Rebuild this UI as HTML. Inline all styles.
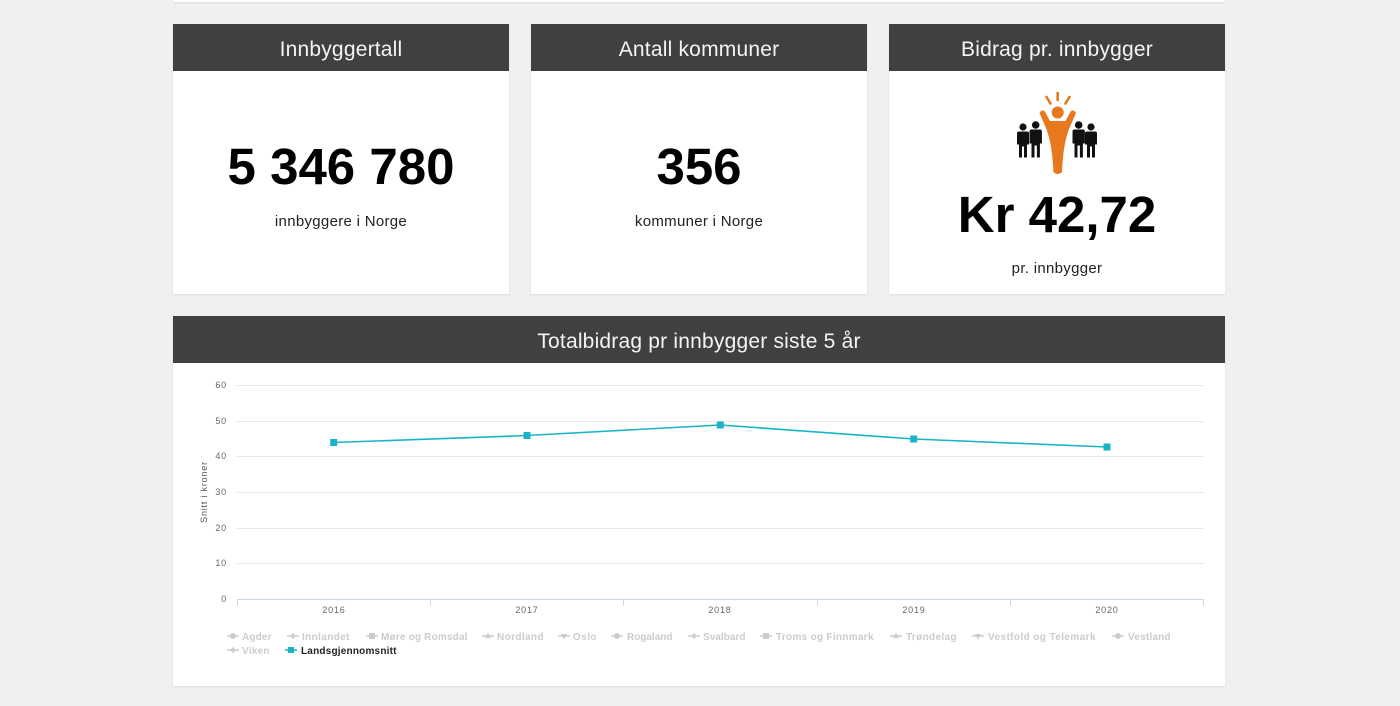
<!DOCTYPE html>
<html><head><meta charset="utf-8">
<style>
html,body{margin:0;padding:0;}
body{width:1400px;height:706px;background:#f0f0f0;position:relative;overflow:hidden;font-family:"Liberation Sans",sans-serif;}
.card{position:absolute;background:#fff;box-shadow:0 1px 2px rgba(0,0,0,0.08);}
.hdr{position:absolute;left:0;top:0;right:0;height:45px;padding-top:2px;background:#404040;color:#f4f4f4;font-size:21px;text-align:center;line-height:47px;letter-spacing:0.2px;}
.big{position:absolute;left:0;right:0;text-align:center;font-weight:bold;font-size:51px;color:#000;line-height:1;}
.sub{position:absolute;left:0;right:0;text-align:center;font-size:15px;color:#222;letter-spacing:0.3px;line-height:1;}
</style></head><body>
<div class="card" style="left:173px;top:-10px;width:1052px;height:12px;"></div>

<div class="card" style="left:173px;top:24px;width:336px;height:270px;">
  <div class="hdr">Innbyggertall</div>
  <div class="big" style="top:117px;">5 346 780</div>
  <div class="sub" style="top:190px;">innbyggere i Norge</div>
</div>

<div class="card" style="left:531px;top:24px;width:336px;height:270px;">
  <div class="hdr">Antall kommuner</div>
  <div class="big" style="top:117px;">356</div>
  <div class="sub" style="top:190px;">kommuner i Norge</div>
</div>

<div class="card" style="left:889px;top:24px;width:336px;height:270px;">
  <div class="hdr">Bidrag pr. innbygger</div>
  <svg style="position:absolute;left:0;top:0" width="336" height="160" viewBox="889 24 336 160">
    <g stroke="#e8781e" stroke-width="2.6" stroke-linecap="round">
      <line x1="1057.7" y1="93" x2="1057.7" y2="100"/>
      <line x1="1046.5" y1="97" x2="1050.5" y2="103.5"/>
      <line x1="1069.5" y1="97" x2="1065.5" y2="103.5"/>
    </g>
    <circle cx="1057.7" cy="112.5" r="6" fill="#e8781e"/>
    <path d="M1039.5,113 Q1041.5,109.5 1044.5,111 L1050,121 L1065.5,121 L1071,111 Q1074,109.5 1076,113 L1069,129 Q1063,145 1062,172 Q1057.7,176 1053.4,172 Q1052.4,145 1046.4,129 Z" fill="#e8781e"/>
    <g fill="#111">
      <circle cx="1023" cy="127" r="3.6"/>
      <path d="M1019,131.5 h8 q2,0 2,2 v11 h-2 v13 h-3 v-11 h-2 v11 h-3 v-13 h-2 v-11 q0,-2 2,-2z"/>
      <circle cx="1035.7" cy="125" r="3.8"/>
      <path d="M1031.5,129.5 h8.4 q2,0 2,2 v12 h-2 v14 h-3 v-12 h-2.4 v12 h-3 v-14 h-2 v-12 q0,-2 2,-2z"/>
      <circle cx="1078.7" cy="125" r="3.8"/>
      <path d="M1074.5,129.5 h8.4 q2,0 2,2 v12 h-2 v14 h-3 v-12 h-2.4 v12 h-3 v-14 h-2 v-12 q0,-2 2,-2z"/>
      <circle cx="1091" cy="127" r="3.6"/>
      <path d="M1087,131.5 h8 q2,0 2,2 v11 h-2 v13 h-3 v-11 h-2 v11 h-3 v-13 h-2 v-11 q0,-2 2,-2z"/>
    </g>
  </svg>
  <div class="big" style="top:165px;">Kr 42,72</div>
  <div class="sub" style="top:237px;">pr. innbygger</div>
</div>

<div class="card" style="left:173px;top:316px;width:1052px;height:370px;">
  <div class="hdr">Totalbidrag pr innbygger siste 5 år</div>
</div>

<svg style="position:absolute;left:0;top:0" width="1400" height="706">
  <g stroke="#e6e6e6" stroke-width="1">
    <line x1="237" y1="385.5" x2="1204" y2="385.5"/>
    <line x1="237" y1="421.5" x2="1204" y2="421.5"/>
    <line x1="237" y1="456.5" x2="1204" y2="456.5"/>
    <line x1="237" y1="492.5" x2="1204" y2="492.5"/>
    <line x1="237" y1="528.5" x2="1204" y2="528.5"/>
    <line x1="237" y1="563.5" x2="1204" y2="563.5"/>
  </g>
  <g stroke="#ccd6eb" stroke-width="1">
    <line x1="237" y1="599.5" x2="1204" y2="599.5"/>
    <line x1="237.5" y1="599" x2="237.5" y2="606"/>
    <line x1="430.5" y1="599" x2="430.5" y2="606"/>
    <line x1="623.5" y1="599" x2="623.5" y2="606"/>
    <line x1="817.5" y1="599" x2="817.5" y2="606"/>
    <line x1="1010.5" y1="599" x2="1010.5" y2="606"/>
    <line x1="1203.5" y1="599" x2="1203.5" y2="606"/>
  </g>
  <g font-family="Liberation Sans, sans-serif" font-size="9" fill="#666" text-anchor="end" letter-spacing="0.8">
    <text x="227" y="388">60</text>
    <text x="227" y="424">50</text>
    <text x="227" y="459">40</text>
    <text x="227" y="495">30</text>
    <text x="227" y="531">20</text>
    <text x="227" y="566">10</text>
    <text x="227" y="602">0</text>
  </g>
  <text transform="translate(207,492) rotate(-90)" font-family="Liberation Sans, sans-serif" font-size="9" fill="#555" text-anchor="middle" letter-spacing="0.8">Snitt i kroner</text>
  <g font-family="Liberation Sans, sans-serif" font-size="9" fill="#666" text-anchor="middle" letter-spacing="0.8">
    <text x="334" y="613">2016</text>
    <text x="527" y="613">2017</text>
    <text x="720" y="613">2018</text>
    <text x="914" y="613">2019</text>
    <text x="1107" y="613">2020</text>
  </g>
  <polyline points="333.7,442.5 527,435.5 720.3,425 913.7,439 1107,447" fill="none" stroke="#19b5c6" stroke-width="1.6"/>
  <g fill="#19b5c6">
    <rect x="330.2" y="439" width="7" height="7"/>
    <rect x="523.5" y="432" width="7" height="7"/>
    <rect x="716.8" y="421.5" width="7" height="7"/>
    <rect x="910.2" y="435.5" width="7" height="7"/>
    <rect x="1103.5" y="443.5" width="7" height="7"/>
  </g>
  <!-- legend -->
  <g font-family="Liberation Sans, sans-serif" font-size="10" font-weight="bold" fill="#cccccc" letter-spacing="0.5">
    <g stroke="#cccccc" stroke-width="1.5">
      <line x1="227" y1="636" x2="239" y2="636"/>
      <line x1="287" y1="636" x2="299" y2="636"/>
      <line x1="366" y1="636" x2="378" y2="636"/>
      <line x1="482" y1="636" x2="494" y2="636"/>
      <line x1="558" y1="636" x2="570" y2="636"/>
      <line x1="611" y1="636" x2="623" y2="636"/>
      <line x1="688" y1="636" x2="700" y2="636"/>
      <line x1="760" y1="636" x2="772" y2="636"/>
      <line x1="890" y1="636" x2="902" y2="636"/>
      <line x1="972" y1="636" x2="984" y2="636"/>
      <line x1="1112" y1="636" x2="1124" y2="636"/>
      <line x1="227" y1="650" x2="239" y2="650"/>
    </g>
    <circle cx="233" cy="636" r="3"/>
    <path d="M293,633 l3,3 l-3,3 l-3,-3z"/>
    <rect x="369" y="633" width="6" height="6"/>
    <path d="M488,632.5 l3.2,5.5 h-6.4z"/>
    <path d="M564,639.5 l3.2,-5.5 h-6.4z"/>
    <circle cx="617" cy="636" r="3"/>
    <path d="M694,633 l3,3 l-3,3 l-3,-3z"/>
    <rect x="763" y="633" width="6" height="6"/>
    <path d="M896,632.5 l3.2,5.5 h-6.4z"/>
    <path d="M978,639.5 l3.2,-5.5 h-6.4z"/>
    <circle cx="1118" cy="636" r="3"/>
    <path d="M233,647 l3,3 l-3,3 l-3,-3z"/>
    <text x="242" y="640" textLength="30">Agder</text>
    <text x="302" y="640" textLength="48">Innlandet</text>
    <text x="381" y="640" textLength="87">Møre og Romsdal</text>
    <text x="497" y="640" textLength="47">Nordland</text>
    <text x="573" y="640" textLength="24">Oslo</text>
    <text x="627" y="640" textLength="46">Rogaland</text>
    <text x="703" y="640" textLength="43">Svalbard</text>
    <text x="776" y="640" textLength="98">Troms og Finnmark</text>
    <text x="906" y="640" textLength="51">Trøndelag</text>
    <text x="988" y="640" textLength="108">Vestfold og Telemark</text>
    <text x="1128" y="640" textLength="43">Vestland</text>
    <text x="242" y="654" textLength="28">Viken</text>
  </g>
  <line x1="285" y1="650" x2="297" y2="650" stroke="#19b5c6" stroke-width="1.5"/>
  <rect x="288" y="647" width="6" height="6" fill="#19b5c6"/>
  <text x="301" y="654" textLength="96" font-family="Liberation Sans, sans-serif" font-size="10" font-weight="bold" fill="#222" letter-spacing="0.5">Landsgjennomsnitt</text>
</svg>
</body></html>
